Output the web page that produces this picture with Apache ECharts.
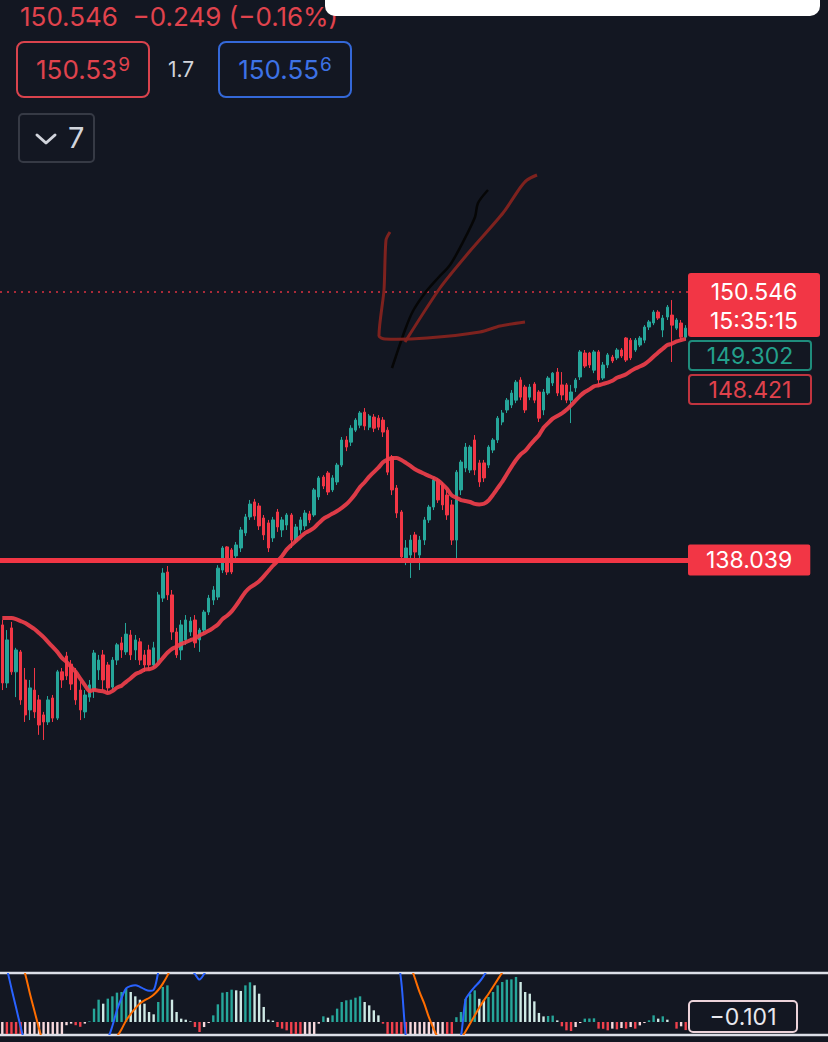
<!DOCTYPE html>
<html>
<head>
<meta charset="utf-8">
<script src="https://cdn.jsdelivr.net/npm/echarts@6/dist/echarts.min.js"></script>
<style>
html,body{margin:0;padding:0;background:#131722;overflow:hidden}
#root{position:relative;width:828px;height:1042px;font-family:Inter,'Noto Sans',sans-serif}
#chart{position:absolute;left:0;top:0;width:828px;height:1042px}
.hdr{position:absolute;white-space:nowrap}
.qbox{position:absolute;top:41px;width:134px;height:57px;box-sizing:border-box;border:2px solid;border-radius:8px;display:flex;align-items:center;justify-content:center;font-size:26px}
.sup{font-size:19px;position:relative;top:-5px;margin-left:1px}
</style>
</head>
<body>
<div id="root">
  <div id="chart"></div>
  <div class="hdr" style="left:20px;top:3px;font-size:26px;line-height:27px;color:#e0434d">150.546&nbsp; −0.249 (−0.16%)</div>
  <div class="hdr" style="left:325px;top:-12px;width:495px;height:28px;background:#fff;border-radius:10px"></div>
  <div class="qbox" style="left:16px;border-color:#d9434d;color:#e0434d">150.53<span class="sup">9</span></div>
  <div class="hdr" style="left:168px;top:55px;font-size:21px;line-height:30px;color:#d1d4dc">1.7</div>
  <div class="qbox" style="left:218px;border-color:#3468d8;color:#3d72e6">150.55<span class="sup">6</span></div>
  <div class="hdr" style="left:18px;top:113px;width:77px;height:50px;box-sizing:border-box;border:2px solid #363a45;border-radius:5px;color:#d1d4dc">
    <svg style="position:absolute;left:14px;top:17px" width="24" height="14"><polyline points="3,3 12,11 21,3" fill="none" stroke="#d1d4dc" stroke-width="3" stroke-linecap="round" stroke-linejoin="round"/></svg>
    <span style="position:absolute;left:48px;top:5px;font-size:29px;line-height:36px">7</span>
  </div>
</div>
<script>
// candle data
const opens = [
  135.01,132.30,134.87,132.82,133.75,132.44,131.04,131.97,131.51,130.81,
  130.48,131.60,130.66,132.82,133.56,133.18,132.82,131.97,130.95,131.64,
  131.97,132.91,133.61,133.14,132.11,133.37,134.17,133.75,134.54,133.84,
  134.22,133.61,133.84,133.14,133.37,136.26,137.48,136.41,134.68,133.84,
  134.31,134.68,135.24,134.31,134.77,135.61,136.17,136.31,137.57,138.65,
  138.51,138.23,138.60,139.30,140.05,140.75,140.56,140.00,139.77,139.07,
  140.28,139.44,139.67,140.14,138.97,139.44,139.63,140.19,140.14,140.98,
  141.91,142.10,141.31,141.68,142.47,143.64,143.54,144.10,144.33,144.94,
  144.24,144.71,144.66,144.57,144.10,142.85,141.40,140.28,138.13,138.27,
  139.21,138.27,138.97,139.91,140.51,141.77,141.54,141.07,140.61,138.97,
  141.31,142.33,142.24,143.64,142.57,142.57,142.47,143.17,143.64,144.48,
  145.04,145.27,145.50,146.44,146.11,145.64,146.25,145.88,145.04,145.83,
  146.30,146.81,146.21,146.21,145.50,146.07,146.58,147.70,147.70,146.90,
  147.75,146.53,147.14,147.51,147.47,147.84,148.40,148.30,147.84,148.07,
  148.30,148.91,149.10,149.61,148.77,149.38,149.47,148.86,149.10,148.44
];
const closes = [
  132.30,134.31,132.82,133.84,131.51,130.81,132.07,130.95,130.34,130.48,
  131.51,130.66,132.82,132.44,132.63,132.25,131.51,131.04,131.74,132.21,
  133.70,133.37,132.44,132.07,133.37,134.08,133.84,134.58,133.61,134.31,
  133.37,133.14,133.14,133.94,136.41,137.43,136.41,134.68,133.61,135.01,
  135.24,135.19,134.17,134.77,135.61,136.26,136.64,137.66,138.60,137.48,
  137.48,138.74,139.44,140.05,140.65,140.09,139.63,139.21,138.60,139.91,
  139.58,139.91,140.14,138.97,139.58,139.91,140.23,139.91,141.31,141.87,
  141.49,141.21,141.87,142.47,143.64,143.31,144.19,144.57,144.90,144.29,
  144.76,144.19,144.24,144.01,142.14,141.31,140.23,138.18,138.60,138.97,
  138.41,138.97,139.91,140.51,141.77,140.84,140.61,140.14,138.97,142.14,
  142.61,143.31,143.31,142.24,141.68,141.87,143.31,143.64,144.66,144.90,
  145.50,145.83,146.34,145.64,145.04,146.11,145.50,144.66,145.88,146.53,
  146.76,145.83,145.74,145.50,145.88,146.44,147.75,147.09,147.14,147.75,
  146.44,147.14,147.61,147.33,147.84,147.56,147.37,147.47,148.30,148.40,
  148.91,149.15,149.61,149.33,149.33,149.84,149.00,149.24,148.44,148.86
];
const lows = [
  131.97,132.07,132.68,131.64,131.28,130.48,130.57,130.66,129.88,129.64,
  130.34,130.48,130.57,132.07,132.44,131.97,131.28,130.57,130.66,131.42,
  131.60,132.44,131.97,131.88,131.97,133.14,133.47,133.61,133.37,133.37,
  133.14,132.82,132.91,133.00,133.28,136.08,136.17,134.31,133.47,133.37,
  134.08,134.49,133.94,133.75,134.63,135.47,135.94,136.17,137.43,137.34,
  137.38,138.04,138.41,139.16,139.91,139.91,139.44,138.97,138.41,138.88,
  139.35,139.11,139.44,138.60,138.83,139.26,139.44,139.77,140.05,140.84,
  141.35,141.07,141.21,141.54,142.38,143.12,143.36,144.01,144.19,144.10,
  144.10,144.01,144.10,143.78,142.00,141.07,140.00,138.04,137.80,137.20,
  138.04,137.57,138.74,139.77,140.37,140.70,140.37,139.91,138.74,138.04,
  141.07,142.14,142.10,142.00,141.45,141.68,142.33,143.03,143.50,144.33,
  144.90,145.13,145.36,145.50,144.90,145.50,145.36,144.48,144.80,145.74,
  146.16,145.69,145.50,145.36,144.43,145.88,146.44,147.00,147.00,146.76,
  146.21,146.44,147.00,147.23,147.37,147.47,147.28,147.37,147.75,147.98,
  148.16,148.77,149.00,149.24,148.44,149.24,147.28,148.77,148.30,148.30
];
const highs = [
  135.24,134.77,135.15,133.94,133.84,133.00,132.44,133.00,131.74,130.95,
  131.69,131.74,132.91,133.00,133.75,133.37,133.00,132.35,131.97,132.44,
  133.84,133.61,133.84,133.28,133.51,134.17,134.45,135.10,134.77,134.54,
  134.40,133.84,134.08,134.22,136.55,137.66,137.76,136.64,134.87,135.24,
  135.47,135.38,135.47,134.87,135.71,136.41,136.82,137.80,138.69,138.69,
  138.60,138.88,139.58,140.19,140.84,140.89,140.70,140.14,139.91,140.05,
  140.42,140.05,140.23,140.23,139.72,140.05,140.37,140.33,141.40,141.96,
  142.00,142.19,142.00,142.57,143.78,143.82,144.33,144.66,144.99,145.13,
  144.85,144.85,144.80,144.71,144.24,142.94,141.54,140.37,138.97,139.21,
  139.35,139.16,140.05,140.61,141.91,141.87,141.68,141.31,140.84,142.24,
  142.71,143.50,143.40,143.87,142.71,142.71,143.40,143.73,144.76,145.04,
  145.60,145.97,146.44,146.57,146.21,146.25,146.34,145.97,146.02,146.62,
  146.81,147.00,146.81,146.30,146.21,146.53,147.84,147.84,147.75,147.84,
  147.84,147.28,147.70,147.61,147.93,147.93,148.44,148.40,148.40,148.49,
  149.00,149.24,149.70,149.70,149.47,149.94,150.17,149.33,149.24,149.00
];
// MA values before 20 bars of history are available
const maHead = [135.33,135.33,135.33,135.28,135.19,135.10,134.96,134.82,134.63,134.44,
  134.21,133.98,133.75,133.47,133.28,133.05,132.82,132.50,132.20];

// MACD pane
const histValues = [
  -0.30,-0.40,-0.50,-0.60,-0.68,-0.62,-0.55,-0.48,-0.40,-0.33,
  -0.27,-0.22,-0.18,-0.15,-0.04,-0.02,-0.04,-0.06,-0.02,0.008,
  0.167,0.279,0.229,0.292,0.321,0.367,0.375,0.417,0.375,0.321,
  0.279,0.229,0.125,0.096,0.25,0.438,0.458,0.279,0.125,0.042,
  0.029,0.008,-0.063,-0.125,-0.063,-0.013,0.083,0.221,0.367,0.375,
  0.404,0.396,0.388,0.458,0.496,0.458,0.354,0.188,0.029,0.017,
  -0.063,-0.083,-0.104,-0.16,-0.20,-0.22,-0.20,-0.17,-0.15,-0.021,
  0.071,0.054,0.083,0.167,0.25,0.271,0.279,0.304,0.321,0.25,
  0.208,0.146,0.083,-0.021,-0.16,-0.25,-0.35,-0.45,-0.50,-0.48,
  -0.44,-0.40,-0.35,-0.30,-0.25,-0.20,-0.16,-0.17,-0.18,0.06,
  0.125,0.29,0.354,0.396,0.29,0.271,0.313,0.375,0.458,0.50,
  0.529,0.533,0.563,0.50,0.375,0.354,0.258,0.113,0.07,0.075,
  0.08,0.02,-0.054,-0.104,-0.113,-0.063,-0.013,0.042,0.044,0.046,
  -0.083,-0.085,-0.104,-0.083,-0.092,-0.075,-0.083,-0.063,-0.083,-0.042,
  -0.013,0.021,0.083,0.042,0.071,0.029,0.0,-0.083,-0.054,-0.101
];
const macdLine = [
  0.92,0.67,0.42,0.18,-0.06,-0.28,-0.45,-0.58,-0.68,-0.75,
  -0.80,-0.82,-0.82,-0.80,-0.76,-0.72,-0.68,-0.62,-0.55,-0.45,
  -0.35,-0.27,-0.22,-0.20,-0.05,0.15,0.30,0.42,0.45,0.46,
  0.44,0.41,0.39,0.40,0.62,0.85,1.00,1.05,0.95,0.85,
  0.75,0.68,0.60,0.53,0.60,0.70,0.85,1.00,1.15,1.25,
  1.30,1.32,1.34,1.38,1.42,1.40,1.35,1.28,1.20,1.15,
  1.10,1.05,1.00,0.95,0.92,0.90,0.90,0.90,0.95,1.02,
  1.08,1.10,1.12,1.18,1.25,1.30,1.35,1.40,1.45,1.45,
  1.44,1.42,1.38,1.30,1.15,1.02,0.85,0.50,-0.20,-0.50,
  -0.70,-0.80,-0.82,-0.80,-0.70,-0.65,-0.58,-0.55,-0.55,-0.35,
  -0.18,0.28,0.37,0.44,0.50,0.58,0.68,0.85,1.00,1.12,
  1.22,1.30,1.40,1.45,1.48,1.50,1.48,1.45,1.42,1.42,
  1.42,1.40,1.36,1.32,1.28,1.28,1.30,1.32,1.32,1.33,
  1.26,1.24,1.20,1.18,1.16,1.15,1.13,1.12,1.10,1.12,
  1.14,1.17,1.22,1.22,1.25,1.25,1.24,1.18,1.18,1.14
];
const signalLine = [
  1.30,1.20,1.08,0.95,0.80,0.60,0.36,0.14,-0.08,-0.28,
  -0.43,-0.55,-0.62,-0.66,-0.70,-0.70,-0.69,-0.67,-0.64,-0.60,
  -0.55,-0.48,-0.40,-0.32,-0.25,-0.18,-0.09,0.02,0.10,0.17,
  0.23,0.27,0.30,0.34,0.40,0.48,0.58,0.70,0.78,0.82,
  0.84,0.85,0.84,0.82,0.80,0.79,0.80,0.83,0.88,0.93,
  0.98,1.02,1.06,1.10,1.14,1.17,1.19,1.20,1.20,1.19,
  1.18,1.16,1.14,1.12,1.10,1.08,1.06,1.05,1.04,1.04,
  1.05,1.06,1.07,1.08,1.10,1.13,1.16,1.19,1.22,1.25,
  1.27,1.29,1.30,1.30,1.28,1.25,1.20,1.10,0.90,0.71,
  0.54,0.37,0.23,0.06,-0.08,-0.20,-0.30,-0.36,-0.40,-0.38,
  -0.22,-0.12,-0.02,0.08,0.18,0.27,0.35,0.44,0.53,0.62,
  0.72,0.82,0.90,0.98,1.05,1.10,1.15,1.18,1.21,1.23,
  1.25,1.26,1.27,1.28,1.28,1.28,1.28,1.29,1.29,1.30,
  1.30,1.29,1.28,1.27,1.26,1.24,1.22,1.20,1.18,1.17,
  1.17,1.17,1.18,1.19,1.20,1.21,1.22,1.22,1.21,1.21
];

const lastPrice = 150.546;
const supportLevel = 138.039;
const categories = closes.map((_, i) => String(i + 1));

const UP = '#26a69a';
const DOWN = '#f23645';
const BG = '#131722';

function sma(period) {
  return closes.map((_, i) => {
    if (i < period - 1) return maHead[i];
    let s = 0;
    for (let k = i - period + 1; k <= i; k++) s += closes[k];
    return +(s / period).toFixed(3);
  });
}

function histColor(i) {
  const v = histValues[i];
  const prev = i > 0 ? histValues[i - 1] : v;
  if (v >= 0) return v >= prev ? UP : '#cfe9e5';
  return v < prev ? '#f0414d' : '#f7d9dd';
}

const candles = closes.map((c, i) => [opens[i], c, lows[i], highs[i]]);

const chart = echarts.init(document.getElementById('chart'), null, { renderer: 'svg' });

const txt = { fontFamily: 'Inter', fontSize: 23 };

chart.setOption({
  backgroundColor: BG,
  animation: false,
  grid: [
    { left: 0, right: 140, top: 180, height: 780 },
    { left: 0, right: 140, top: 974, height: 60 }
  ],
  xAxis: [
    { type: 'category', data: categories, gridIndex: 0, show: false },
    { type: 'category', data: categories, gridIndex: 1, show: false }
  ],
  yAxis: [
    { gridIndex: 0, min: 119.372, max: 155.773, show: false },
    { gridIndex: 1, min: -0.15, max: 0.60, show: false }
  ],
  series: [
    {
      type: 'candlestick',
      data: candles,
      barWidth: '64%',
      itemStyle: { color: UP, color0: DOWN, borderColor: UP, borderColor0: DOWN, borderWidth: 1 },
      markLine: {
        silent: true,
        symbol: ['none', 'none'],
        data: [
          {
            yAxis: lastPrice,
            lineStyle: { color: DOWN, width: 1.5, type: [2, 5], opacity: 0.9 },
            label: { show: false }
          },
          {
            yAxis: supportLevel,
            lineStyle: { color: DOWN, width: 5, type: 'solid' },
            label: {
              show: true, position: 'end', distance: 0,
              formatter: String(supportLevel),
              backgroundColor: DOWN, color: '#fff',
              fontFamily: 'Inter', fontSize: 23, lineHeight: 27,
              padding: [2, 18, 2, 18], borderRadius: 2
            }
          }
        ]
      }
    },
    {
      type: 'line',
      data: sma(20),
      symbol: 'none',
      smooth: 0.2,
      z: 3,
      lineStyle: { color: '#ef3f4b', width: 4, opacity: 0.92 }
    },
    {
      type: 'bar',
      xAxisIndex: 1, yAxisIndex: 1,
      data: histValues,
      barWidth: '52%',
      itemStyle: { color: p => histColor(p.dataIndex) }
    },
    {
      type: 'line', xAxisIndex: 1, yAxisIndex: 1,
      data: macdLine, symbol: 'none', smooth: 0.3,
      lineStyle: { color: '#2962ff', width: 2 }
    },
    {
      type: 'line', xAxisIndex: 1, yAxisIndex: 1,
      data: signalLine, symbol: 'none', smooth: 0.3,
      lineStyle: { color: '#ff6d00', width: 2 }
    }
  ],
  graphic: [
    // hand-drawn marks on the screenshot
    {
      type: 'polyline', silent: true, z: 20,
      shape: { smooth: 0.3, points: [[488,190],[478,203],[475,217],[463,242],[450,265],[438,278],[425,293],[413,311],[405,330],[392,368]] },
      style: { stroke: '#060606', lineWidth: 2.5, fill: null }
    },
    {
      type: 'polyline', silent: true, z: 20,
      shape: { smooth: 0.25, points: [[537,175],[527,180],[520,188],[503,213],[470,251],[440,288],[405,342]] },
      style: { stroke: '#84231f', lineWidth: 3, fill: null, opacity: 0.95 }
    },
    {
      type: 'polyline', silent: true, z: 20,
      shape: { smooth: 0.25, points: [[390,232],[386,240],[384,290],[379,336],[385,339],[427,338],[480,332],[500,326],[525,322]] },
      style: { stroke: '#84231f', lineWidth: 3, fill: null, opacity: 0.95 }
    },
    // pane separators
    { type: 'line', silent: true, shape: { x1: 0, y1: 973, x2: 828, y2: 973 }, style: { stroke: '#dcdfe8', lineWidth: 2.5 } },
    { type: 'line', silent: true, shape: { x1: 0, y1: 1035, x2: 828, y2: 1035 }, style: { stroke: '#dcdfe8', lineWidth: 2.5 } },
    // price scale labels
    { type: 'rect', silent: true, z: 10, shape: { x: 688, y: 273, width: 132, height: 64, r: 3 }, style: { fill: DOWN } },
    { type: 'text', silent: true, z: 11, style: Object.assign({ x: 754, y: 292, text: String(lastPrice), fill: '#fff', align: 'center', verticalAlign: 'middle' }, txt) },
    { type: 'text', silent: true, z: 11, style: Object.assign({ x: 754, y: 321, text: '15:35:15', fill: '#fff', align: 'center', verticalAlign: 'middle' }, txt) },
    { type: 'rect', silent: true, z: 10, shape: { x: 689, y: 341, width: 122, height: 29, r: 3 }, style: { fill: BG, stroke: '#1f8c7c', lineWidth: 2 } },
    { type: 'text', silent: true, z: 11, style: Object.assign({ x: 750, y: 356, text: '149.302', fill: '#23a08c', align: 'center', verticalAlign: 'middle' }, txt) },
    { type: 'rect', silent: true, z: 10, shape: { x: 689, y: 375, width: 122, height: 29, r: 3 }, style: { fill: BG, stroke: '#c0343f', lineWidth: 2 } },
    { type: 'text', silent: true, z: 11, style: Object.assign({ x: 750, y: 390, text: '148.421', fill: '#e0424c', align: 'center', verticalAlign: 'middle' }, txt) },
    { type: 'rect', silent: true, z: 10, shape: { x: 689, y: 1001, width: 108, height: 31, r: 4 }, style: { fill: BG, stroke: '#ecd3da', lineWidth: 2 } },
    { type: 'text', silent: true, z: 11, style: Object.assign({ x: 743, y: 1017, text: '−0.101', fill: '#e8e8ee', align: 'center', verticalAlign: 'middle' }, txt) }
  ]
});
</script>
</body>
</html>
